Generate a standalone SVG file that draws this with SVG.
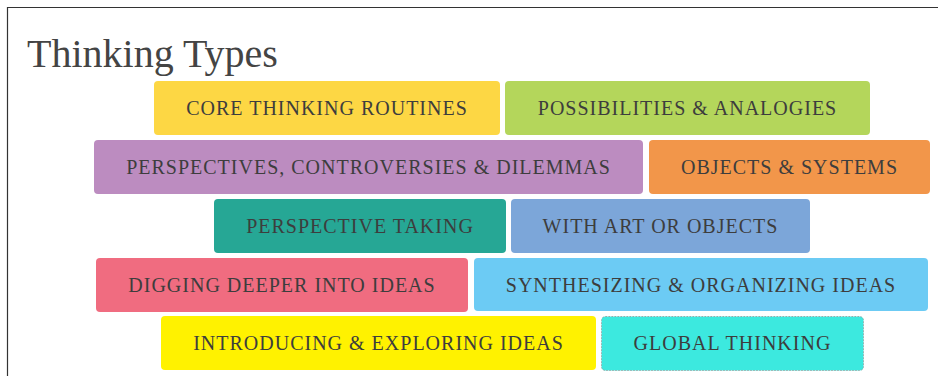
<svg xmlns="http://www.w3.org/2000/svg" width="938" height="376" viewBox="0 0 938 376">
  <style>
    .frame { fill: none; stroke: #333; stroke-width: 1.2; }
    .title { font-family: "Liberation Serif", "Times New Roman", serif; font-size: 40px; fill: #444; }
    .box { rx: 4; ry: 4; }
    .lbl { font-family: "Liberation Serif", "Times New Roman", serif; font-size: 20px; letter-spacing: 1px; fill: #3d3d3d; text-anchor: middle; }
  </style>
  <rect width="938" height="376" fill="#fff"/>
  <path class="frame" d="M7.5 376 V7.5 H938"/>
  <text class="title" x="27" y="67">Thinking Types</text>

  <g id="core-thinking-routines">
    <rect class="box" x="154" y="81" width="346" height="54" fill="#FDD744"/>
    <text class="lbl" x="327" y="115">CORE THINKING ROUTINES</text>
  </g>
  <g id="possibilities-analogies">
    <rect class="box" x="505" y="81" width="365" height="54" fill="#B4D65B"/>
    <text class="lbl" x="687.5" y="115">POSSIBILITIES &amp; ANALOGIES</text>
  </g>
  <g id="perspectives-controversies-dilemmas">
    <rect class="box" x="94" y="140" width="549" height="54" fill="#BC8CC0"/>
    <text class="lbl" x="368.5" y="174">PERSPECTIVES, CONTROVERSIES &amp; DILEMMAS</text>
  </g>
  <g id="objects-systems">
    <rect class="box" x="649" y="140" width="281" height="54" fill="#F2964A"/>
    <text class="lbl" x="789.5" y="174">OBJECTS &amp; SYSTEMS</text>
  </g>
  <g id="perspective-taking">
    <rect class="box" x="214" y="199" width="292" height="54" fill="#26A795"/>
    <text class="lbl" x="360" y="233">PERSPECTIVE TAKING</text>
  </g>
  <g id="with-art-or-objects">
    <rect class="box" x="511" y="199" width="299" height="54" fill="#7CA6D9"/>
    <text class="lbl" x="660.5" y="233">WITH ART OR OBJECTS</text>
  </g>
  <g id="digging-deeper">
    <rect class="box" x="96" y="258" width="372" height="54" fill="#F06C80"/>
    <text class="lbl" x="282" y="292">DIGGING DEEPER INTO IDEAS</text>
  </g>
  <g id="synthesizing-organizing">
    <rect class="box" x="474" y="258" width="454" height="53" fill="#6CCBF4"/>
    <text class="lbl" x="701" y="292">SYNTHESIZING &amp; ORGANIZING IDEAS</text>
  </g>
  <g id="introducing-exploring">
    <rect class="box" x="161" y="316" width="435" height="54" fill="#FFF200"/>
    <text class="lbl" x="378.5" y="350">INTRODUCING &amp; EXPLORING IDEAS</text>
  </g>
  <g id="global-thinking">
    <rect class="box" x="601.5" y="316.5" width="262" height="54" fill="#3CE9DF" stroke="#9aa" stroke-width="1" stroke-dasharray="1.5 1.5"/>
    <text class="lbl" x="732.5" y="350">GLOBAL THINKING</text>
  </g>
</svg>
